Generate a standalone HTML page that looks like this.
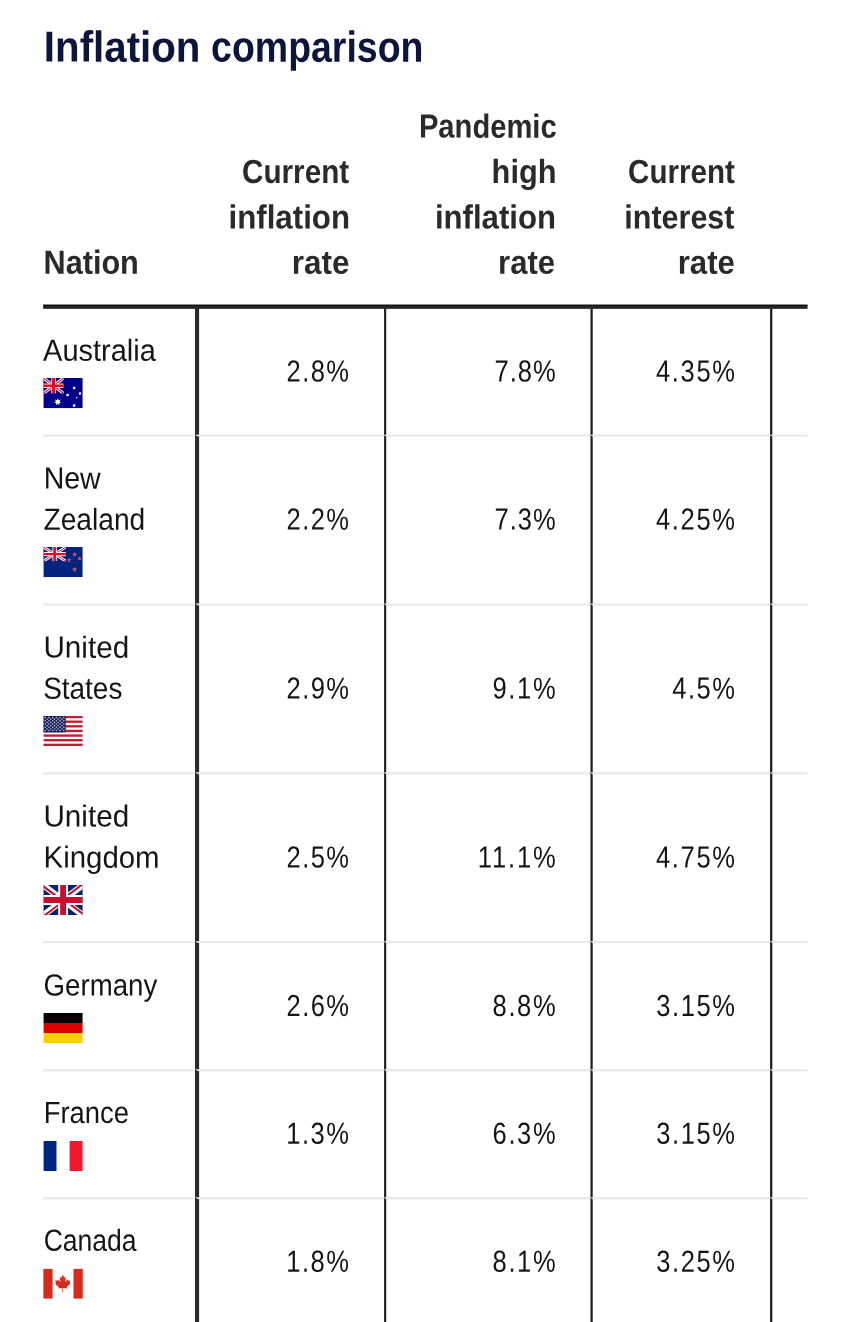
<!DOCTYPE html>
<html lang="en">
<head>
<meta charset="utf-8">
<title>Inflation comparison</title>
<style>
html,body{margin:0;padding:0;background:#fff}
body{width:851px;height:1322px;position:relative;overflow:hidden;font-family:"Liberation Sans",sans-serif}
.t{position:absolute;left:0;top:0;white-space:nowrap;line-height:1;text-rendering:geometricPrecision;transform-origin:0 0;margin:0;padding:0}
.b{font-weight:700}
svg.lines{position:absolute;left:0;top:0}
h1{margin:0;padding:0;font-size:inherit;font-weight:inherit}
</style>
</head>
<body>
<svg class="lines" width="851" height="1322" viewBox="0 0 851 1322">
<rect x="43.2" y="434.50" width="764.3" height="2.2" fill="#e9e9e9"/>
<rect x="43.2" y="603.40" width="764.3" height="2.2" fill="#e9e9e9"/>
<rect x="43.2" y="772.20" width="764.3" height="2.2" fill="#e9e9e9"/>
<rect x="43.2" y="941.00" width="764.3" height="2.2" fill="#e9e9e9"/>
<rect x="43.2" y="1069.20" width="764.3" height="2.2" fill="#e9e9e9"/>
<rect x="43.2" y="1197.20" width="764.3" height="2.2" fill="#e9e9e9"/>
<rect x="195.0" y="308.4" width="4.10" height="1014.1" fill="#2a2a2a"/>
<rect x="384.1" y="308.4" width="2.10" height="1014.1" fill="#1a1a1a"/>
<rect x="590.5" y="308.4" width="2.20" height="1014.1" fill="#1a1a1a"/>
<rect x="770.1" y="308.4" width="2.20" height="1014.1" fill="#1a1a1a"/>
<path d="M194.8 434.9L199.2 434.6V436.8z" fill="#f6f6f6"/>
<path d="M383.9 434.9L386.3 434.6V436.8z" fill="#f6f6f6"/>
<path d="M590.3 434.9L592.8 434.6V436.8z" fill="#f6f6f6"/>
<path d="M769.9 434.9L772.4 434.6V436.8z" fill="#f6f6f6"/>
<path d="M194.8 603.8L199.2 603.5V605.7z" fill="#f6f6f6"/>
<path d="M383.9 603.8L386.3 603.5V605.7z" fill="#f6f6f6"/>
<path d="M590.3 603.8L592.8 603.5V605.7z" fill="#f6f6f6"/>
<path d="M769.9 603.8L772.4 603.5V605.7z" fill="#f6f6f6"/>
<path d="M194.8 772.6L199.2 772.3V774.5z" fill="#f6f6f6"/>
<path d="M383.9 772.6L386.3 772.3V774.5z" fill="#f6f6f6"/>
<path d="M590.3 772.6L592.8 772.3V774.5z" fill="#f6f6f6"/>
<path d="M769.9 772.6L772.4 772.3V774.5z" fill="#f6f6f6"/>
<path d="M194.8 941.4L199.2 941.1V943.3z" fill="#f6f6f6"/>
<path d="M383.9 941.4L386.3 941.1V943.3z" fill="#f6f6f6"/>
<path d="M590.3 941.4L592.8 941.1V943.3z" fill="#f6f6f6"/>
<path d="M769.9 941.4L772.4 941.1V943.3z" fill="#f6f6f6"/>
<path d="M194.8 1069.6L199.2 1069.3V1071.5z" fill="#f6f6f6"/>
<path d="M383.9 1069.6L386.3 1069.3V1071.5z" fill="#f6f6f6"/>
<path d="M590.3 1069.6L592.8 1069.3V1071.5z" fill="#f6f6f6"/>
<path d="M769.9 1069.6L772.4 1069.3V1071.5z" fill="#f6f6f6"/>
<path d="M194.8 1197.6L199.2 1197.3V1199.5z" fill="#f6f6f6"/>
<path d="M383.9 1197.6L386.3 1197.3V1199.5z" fill="#f6f6f6"/>
<path d="M590.3 1197.6L592.8 1197.3V1199.5z" fill="#f6f6f6"/>
<path d="M769.9 1197.6L772.4 1197.3V1199.5z" fill="#f6f6f6"/>
<rect x="43.2" y="304.7" width="764.3" height="4.20" fill="#2a2a2a"/>
<rect x="43.2" y="304.7" width="764.3" height="1.7" fill="#161616"/>
<svg x="43.35" y="378.1" width="39.4" height="30.1" viewBox="0 0 640 480" preserveAspectRatio="none"><path fill="#00008b" d="M0 0h640v480H0z"/><clipPath id="uj1"><rect x="0" y="0" width="330" height="245"/></clipPath><g clip-path="url(#uj1)"><rect width="330" height="245" fill="#00008b"/><path d="M0 0L330 245M330 0L0 245" stroke="#fff" stroke-width="50"/><path d="M0 0L330 245M330 0L0 245" stroke="#e8001e" stroke-width="17"/><rect x="129.0" y="0" width="72" height="245" fill="#fff"/><rect x="0" y="87.5" width="330" height="70" fill="#fff"/><rect x="141.0" y="0" width="48" height="245" fill="#e8001e"/><rect x="0" y="101.5" width="330" height="42" fill="#e8001e"/></g><polygon fill="#fff" points="234.0,320.0 247.0,353.0 280.9,342.6 263.2,373.3 292.5,393.4 257.5,398.7 260.0,434.1 234.0,410.0 208.0,434.1 210.5,398.7 175.5,393.4 204.8,373.3 187.1,342.6 221.0,353.0"/><polygon fill="#fff" points="500.0,129.0 507.3,141.9 521.9,139.5 516.4,153.3 527.3,163.2 513.1,167.5 512.1,182.2 500.0,173.8 487.9,182.2 486.9,167.5 472.7,163.2 483.6,153.3 478.1,139.5 492.7,141.9"/><polygon fill="#fff" points="595.0,219.0 601.8,230.9 615.3,228.8 610.2,241.5 620.3,250.8 607.2,254.7 606.3,268.4 595.0,260.6 583.7,268.4 582.8,254.7 569.7,250.8 579.8,241.5 574.7,228.8 588.2,230.9"/><polygon fill="#fff" points="394.0,242.0 401.3,254.9 415.9,252.5 410.4,266.3 421.3,276.2 407.1,280.5 406.1,295.2 394.0,286.8 381.9,295.2 380.9,280.5 366.7,276.2 377.6,266.3 372.1,252.5 386.7,254.9"/><polygon fill="#fff" points="500.0,410.0 507.3,422.9 521.9,420.5 516.4,434.3 527.3,444.2 513.1,448.5 512.1,463.2 500.0,454.8 487.9,463.2 486.9,448.5 472.7,444.2 483.6,434.3 478.1,420.5 492.7,422.9"/><polygon fill="#fff" points="541.0,297.0 546.3,306.7 557.2,308.7 549.6,316.8 551.0,327.8 541.0,323.0 531.0,327.8 532.4,316.8 524.8,308.7 535.7,306.7"/></svg>
<svg x="43.35" y="547.0" width="39.4" height="30.1" viewBox="0 0 640 480" preserveAspectRatio="none"><path fill="#00247d" d="M0 0h640v480H0z"/><clipPath id="uj2"><rect x="0" y="0" width="366" height="226"/></clipPath><g clip-path="url(#uj2)"><rect width="366" height="226" fill="#00247d"/><path d="M0 0L366 226M366 0L0 226" stroke="#fff" stroke-width="46"/><path d="M0 0L366 226M366 0L0 226" stroke="#e8001e" stroke-width="15"/><rect x="148.0" y="0" width="70" height="226" fill="#fff"/><rect x="0" y="80.0" width="366" height="66" fill="#fff"/><rect x="162.0" y="0" width="42" height="226" fill="#e8001e"/><rect x="0" y="95.0" width="366" height="36" fill="#e8001e"/></g><polygon fill="#fff" fill-opacity="0.7" points="508.0,83.0 518.6,104.4 542.2,107.9 525.1,124.6 529.2,148.1 508.0,137.0 486.8,148.1 490.9,124.6 473.8,107.9 497.4,104.4"/><polygon fill="#e8203a" points="508.0,88.4 516.9,106.8 537.1,109.5 522.4,123.7 526.0,143.8 508.0,134.1 490.0,143.8 493.6,123.7 478.9,109.5 499.1,106.8"/><polygon fill="#fff" fill-opacity="0.7" points="587.0,154.0 596.4,173.1 617.4,176.1 602.2,190.9 605.8,211.9 587.0,202.0 568.2,211.9 571.8,190.9 556.6,176.1 577.6,173.1"/><polygon fill="#e8203a" points="587.0,158.8 594.9,175.1 612.9,177.6 599.8,190.2 603.0,208.0 587.0,199.4 571.0,208.0 574.2,190.2 561.1,177.6 579.1,175.1"/><polygon fill="#fff" fill-opacity="0.7" points="417.0,177.0 427.0,197.2 449.3,200.5 433.2,216.3 437.0,238.5 417.0,228.0 397.0,238.5 400.8,216.3 384.7,200.5 407.0,197.2"/><polygon fill="#e8203a" points="417.0,182.1 425.4,199.4 444.5,202.1 430.6,215.4 434.0,234.4 417.0,225.3 400.0,234.4 403.4,215.4 389.5,202.1 408.6,199.4"/><polygon fill="#fff" fill-opacity="0.7" points="508.0,321.0 519.2,343.6 544.1,347.3 526.1,364.9 530.3,389.7 508.0,378.0 485.7,389.7 489.9,364.9 471.9,347.3 496.8,343.6"/><polygon fill="#e8203a" points="508.0,326.7 517.4,346.1 538.7,349.0 523.2,363.9 527.0,385.1 508.0,375.0 489.0,385.1 492.8,363.9 477.3,349.0 498.6,346.1"/></svg>
<svg x="43.35" y="715.9" width="39.4" height="30.1" viewBox="0 0 640 480" preserveAspectRatio="none"><path fill="#fff" d="M0 0h640v480H0z"/><rect fill="#c41a30" x="0" y="0.00" width="640" height="36.92"/><rect fill="#c41a30" x="0" y="73.85" width="640" height="36.92"/><rect fill="#c41a30" x="0" y="147.69" width="640" height="36.92"/><rect fill="#c41a30" x="0" y="221.54" width="640" height="36.92"/><rect fill="#c41a30" x="0" y="295.38" width="640" height="36.92"/><rect fill="#c41a30" x="0" y="369.23" width="640" height="36.92"/><rect fill="#c41a30" x="0" y="443.08" width="640" height="36.92"/><rect fill="#141c58" x="0" y="0" width="363" height="263.46"/><polygon fill="#fff" fill-opacity="0.8" points="30.2,8.8 35.5,18.6 46.4,20.6 38.8,28.6 40.2,39.6 30.2,34.8 20.3,39.6 21.7,28.6 14.1,20.6 25.0,18.6"/><polygon fill="#fff" fill-opacity="0.8" points="90.8,8.8 96.0,18.6 106.9,20.6 99.3,28.6 100.7,39.6 90.8,34.8 80.8,39.6 82.2,28.6 74.6,20.6 85.5,18.6"/><polygon fill="#fff" fill-opacity="0.8" points="151.2,8.8 156.5,18.6 167.4,20.6 159.8,28.6 161.2,39.6 151.2,34.8 141.3,39.6 142.7,28.6 135.1,20.6 146.0,18.6"/><polygon fill="#fff" fill-opacity="0.8" points="211.8,8.8 217.0,18.6 227.9,20.6 220.3,28.6 221.7,39.6 211.8,34.8 201.8,39.6 203.2,28.6 195.6,20.6 206.5,18.6"/><polygon fill="#fff" fill-opacity="0.8" points="272.2,8.8 277.5,18.6 288.4,20.6 280.8,28.6 282.2,39.6 272.2,34.8 262.3,39.6 263.7,28.6 256.1,20.6 267.0,18.6"/><polygon fill="#fff" fill-opacity="0.8" points="332.8,8.8 338.0,18.6 348.9,20.6 341.3,28.6 342.7,39.6 332.8,34.8 322.8,39.6 324.2,28.6 316.6,20.6 327.5,18.6"/><polygon fill="#fff" fill-opacity="0.8" points="60.5,34.7 65.8,44.4 76.7,46.4 69.1,54.5 70.5,65.4 60.5,60.7 50.5,65.4 51.9,54.5 44.3,46.4 55.2,44.4"/><polygon fill="#fff" fill-opacity="0.8" points="121.0,34.7 126.3,44.4 137.2,46.4 129.6,54.5 131.0,65.4 121.0,60.7 111.0,65.4 112.4,54.5 104.8,46.4 115.7,44.4"/><polygon fill="#fff" fill-opacity="0.8" points="181.5,34.7 186.8,44.4 197.7,46.4 190.1,54.5 191.5,65.4 181.5,60.7 171.5,65.4 172.9,54.5 165.3,46.4 176.2,44.4"/><polygon fill="#fff" fill-opacity="0.8" points="242.0,34.7 247.3,44.4 258.2,46.4 250.6,54.5 252.0,65.4 242.0,60.7 232.0,65.4 233.4,54.5 225.8,46.4 236.7,44.4"/><polygon fill="#fff" fill-opacity="0.8" points="302.5,34.7 307.8,44.4 318.7,46.4 311.1,54.5 312.5,65.4 302.5,60.7 292.5,65.4 293.9,54.5 286.3,46.4 297.2,44.4"/><polygon fill="#fff" fill-opacity="0.8" points="30.2,60.5 35.5,70.3 46.4,72.3 38.8,80.3 40.2,91.3 30.2,86.5 20.3,91.3 21.7,80.3 14.1,72.3 25.0,70.3"/><polygon fill="#fff" fill-opacity="0.8" points="90.8,60.5 96.0,70.3 106.9,72.3 99.3,80.3 100.7,91.3 90.8,86.5 80.8,91.3 82.2,80.3 74.6,72.3 85.5,70.3"/><polygon fill="#fff" fill-opacity="0.8" points="151.2,60.5 156.5,70.3 167.4,72.3 159.8,80.3 161.2,91.3 151.2,86.5 141.3,91.3 142.7,80.3 135.1,72.3 146.0,70.3"/><polygon fill="#fff" fill-opacity="0.8" points="211.8,60.5 217.0,70.3 227.9,72.3 220.3,80.3 221.7,91.3 211.8,86.5 201.8,91.3 203.2,80.3 195.6,72.3 206.5,70.3"/><polygon fill="#fff" fill-opacity="0.8" points="272.2,60.5 277.5,70.3 288.4,72.3 280.8,80.3 282.2,91.3 272.2,86.5 262.3,91.3 263.7,80.3 256.1,72.3 267.0,70.3"/><polygon fill="#fff" fill-opacity="0.8" points="332.8,60.5 338.0,70.3 348.9,72.3 341.3,80.3 342.7,91.3 332.8,86.5 322.8,91.3 324.2,80.3 316.6,72.3 327.5,70.3"/><polygon fill="#fff" fill-opacity="0.8" points="60.5,86.4 65.8,96.1 76.7,98.1 69.1,106.2 70.5,117.1 60.5,112.4 50.5,117.1 51.9,106.2 44.3,98.1 55.2,96.1"/><polygon fill="#fff" fill-opacity="0.8" points="121.0,86.4 126.3,96.1 137.2,98.1 129.6,106.2 131.0,117.1 121.0,112.4 111.0,117.1 112.4,106.2 104.8,98.1 115.7,96.1"/><polygon fill="#fff" fill-opacity="0.8" points="181.5,86.4 186.8,96.1 197.7,98.1 190.1,106.2 191.5,117.1 181.5,112.4 171.5,117.1 172.9,106.2 165.3,98.1 176.2,96.1"/><polygon fill="#fff" fill-opacity="0.8" points="242.0,86.4 247.3,96.1 258.2,98.1 250.6,106.2 252.0,117.1 242.0,112.4 232.0,117.1 233.4,106.2 225.8,98.1 236.7,96.1"/><polygon fill="#fff" fill-opacity="0.8" points="302.5,86.4 307.8,96.1 318.7,98.1 311.1,106.2 312.5,117.1 302.5,112.4 292.5,117.1 293.9,106.2 286.3,98.1 297.2,96.1"/><polygon fill="#fff" fill-opacity="0.8" points="30.2,112.2 35.5,121.9 46.4,124.0 38.8,132.0 40.2,143.0 30.2,138.2 20.3,143.0 21.7,132.0 14.1,124.0 25.0,121.9"/><polygon fill="#fff" fill-opacity="0.8" points="90.8,112.2 96.0,121.9 106.9,124.0 99.3,132.0 100.7,143.0 90.8,138.2 80.8,143.0 82.2,132.0 74.6,124.0 85.5,121.9"/><polygon fill="#fff" fill-opacity="0.8" points="151.2,112.2 156.5,121.9 167.4,124.0 159.8,132.0 161.2,143.0 151.2,138.2 141.3,143.0 142.7,132.0 135.1,124.0 146.0,121.9"/><polygon fill="#fff" fill-opacity="0.8" points="211.8,112.2 217.0,121.9 227.9,124.0 220.3,132.0 221.7,143.0 211.8,138.2 201.8,143.0 203.2,132.0 195.6,124.0 206.5,121.9"/><polygon fill="#fff" fill-opacity="0.8" points="272.2,112.2 277.5,121.9 288.4,124.0 280.8,132.0 282.2,143.0 272.2,138.2 262.3,143.0 263.7,132.0 256.1,124.0 267.0,121.9"/><polygon fill="#fff" fill-opacity="0.8" points="332.8,112.2 338.0,121.9 348.9,124.0 341.3,132.0 342.7,143.0 332.8,138.2 322.8,143.0 324.2,132.0 316.6,124.0 327.5,121.9"/><polygon fill="#fff" fill-opacity="0.8" points="60.5,138.1 65.8,147.8 76.7,149.8 69.1,157.9 70.5,168.8 60.5,164.1 50.5,168.8 51.9,157.9 44.3,149.8 55.2,147.8"/><polygon fill="#fff" fill-opacity="0.8" points="121.0,138.1 126.3,147.8 137.2,149.8 129.6,157.9 131.0,168.8 121.0,164.1 111.0,168.8 112.4,157.9 104.8,149.8 115.7,147.8"/><polygon fill="#fff" fill-opacity="0.8" points="181.5,138.1 186.8,147.8 197.7,149.8 190.1,157.9 191.5,168.8 181.5,164.1 171.5,168.8 172.9,157.9 165.3,149.8 176.2,147.8"/><polygon fill="#fff" fill-opacity="0.8" points="242.0,138.1 247.3,147.8 258.2,149.8 250.6,157.9 252.0,168.8 242.0,164.1 232.0,168.8 233.4,157.9 225.8,149.8 236.7,147.8"/><polygon fill="#fff" fill-opacity="0.8" points="302.5,138.1 307.8,147.8 318.7,149.8 311.1,157.9 312.5,168.8 302.5,164.1 292.5,168.8 293.9,157.9 286.3,149.8 297.2,147.8"/><polygon fill="#fff" fill-opacity="0.8" points="30.2,163.9 35.5,173.6 46.4,175.7 38.8,183.7 40.2,194.7 30.2,189.9 20.3,194.7 21.7,183.7 14.1,175.7 25.0,173.6"/><polygon fill="#fff" fill-opacity="0.8" points="90.8,163.9 96.0,173.6 106.9,175.7 99.3,183.7 100.7,194.7 90.8,189.9 80.8,194.7 82.2,183.7 74.6,175.7 85.5,173.6"/><polygon fill="#fff" fill-opacity="0.8" points="151.2,163.9 156.5,173.6 167.4,175.7 159.8,183.7 161.2,194.7 151.2,189.9 141.3,194.7 142.7,183.7 135.1,175.7 146.0,173.6"/><polygon fill="#fff" fill-opacity="0.8" points="211.8,163.9 217.0,173.6 227.9,175.7 220.3,183.7 221.7,194.7 211.8,189.9 201.8,194.7 203.2,183.7 195.6,175.7 206.5,173.6"/><polygon fill="#fff" fill-opacity="0.8" points="272.2,163.9 277.5,173.6 288.4,175.7 280.8,183.7 282.2,194.7 272.2,189.9 262.3,194.7 263.7,183.7 256.1,175.7 267.0,173.6"/><polygon fill="#fff" fill-opacity="0.8" points="332.8,163.9 338.0,173.6 348.9,175.7 341.3,183.7 342.7,194.7 332.8,189.9 322.8,194.7 324.2,183.7 316.6,175.7 327.5,173.6"/><polygon fill="#fff" fill-opacity="0.8" points="60.5,189.8 65.8,199.5 76.7,201.5 69.1,209.6 70.5,220.5 60.5,215.8 50.5,220.5 51.9,209.6 44.3,201.5 55.2,199.5"/><polygon fill="#fff" fill-opacity="0.8" points="121.0,189.8 126.3,199.5 137.2,201.5 129.6,209.6 131.0,220.5 121.0,215.8 111.0,220.5 112.4,209.6 104.8,201.5 115.7,199.5"/><polygon fill="#fff" fill-opacity="0.8" points="181.5,189.8 186.8,199.5 197.7,201.5 190.1,209.6 191.5,220.5 181.5,215.8 171.5,220.5 172.9,209.6 165.3,201.5 176.2,199.5"/><polygon fill="#fff" fill-opacity="0.8" points="242.0,189.8 247.3,199.5 258.2,201.5 250.6,209.6 252.0,220.5 242.0,215.8 232.0,220.5 233.4,209.6 225.8,201.5 236.7,199.5"/><polygon fill="#fff" fill-opacity="0.8" points="302.5,189.8 307.8,199.5 318.7,201.5 311.1,209.6 312.5,220.5 302.5,215.8 292.5,220.5 293.9,209.6 286.3,201.5 297.2,199.5"/><polygon fill="#fff" fill-opacity="0.8" points="30.2,215.6 35.5,225.3 46.4,227.4 38.8,235.4 40.2,246.4 30.2,241.6 20.3,246.4 21.7,235.4 14.1,227.4 25.0,225.3"/><polygon fill="#fff" fill-opacity="0.8" points="90.8,215.6 96.0,225.3 106.9,227.4 99.3,235.4 100.7,246.4 90.8,241.6 80.8,246.4 82.2,235.4 74.6,227.4 85.5,225.3"/><polygon fill="#fff" fill-opacity="0.8" points="151.2,215.6 156.5,225.3 167.4,227.4 159.8,235.4 161.2,246.4 151.2,241.6 141.3,246.4 142.7,235.4 135.1,227.4 146.0,225.3"/><polygon fill="#fff" fill-opacity="0.8" points="211.8,215.6 217.0,225.3 227.9,227.4 220.3,235.4 221.7,246.4 211.8,241.6 201.8,246.4 203.2,235.4 195.6,227.4 206.5,225.3"/><polygon fill="#fff" fill-opacity="0.8" points="272.2,215.6 277.5,225.3 288.4,227.4 280.8,235.4 282.2,246.4 272.2,241.6 262.3,246.4 263.7,235.4 256.1,227.4 267.0,225.3"/><polygon fill="#fff" fill-opacity="0.8" points="332.8,215.6 338.0,225.3 348.9,227.4 341.3,235.4 342.7,246.4 332.8,241.6 322.8,246.4 324.2,235.4 316.6,227.4 327.5,225.3"/></svg>
<svg x="43.35" y="885.0" width="39.4" height="30.1" viewBox="0 0 640 480" preserveAspectRatio="none"><path fill="#012169" d="M0 0h640v480H0z"/>
<path fill="#fff" d="m75 0 244 181L562 0h78v62L400 241l240 178v61h-80L320 301 81 480H0v-60l239-178L0 64V0h75z"/>
<path fill="#c8102e" d="m424 281 216 159v40L369 281h55zm-184 20 6 35L54 480H0l240-179zM640 0v3L391 191l2-44L590 0h50zM0 0l239 176h-60L0 42V0z"/>
<path fill="#fff" d="M241 0v480h160V0H241zM0 160v160h640V160H0z"/>
<path fill="#c8102e" d="M0 193v96h640v-96H0zM273 0v480h96V0h-96z"/></svg>
<svg x="43.35" y="1013.0" width="39.4" height="30.1" viewBox="0 0 640 480" preserveAspectRatio="none"><path fill="#ffce00" d="M0 320h640v160H0z"/><path fill="#000" d="M0 0h640v160H0z"/><path fill="#d00" d="M0 160h640v160H0z"/></svg>
<svg x="43.35" y="1141.0" width="39.4" height="30.1" viewBox="0 0 640 480" preserveAspectRatio="none"><path fill="#fff" d="M0 0h640v480H0z"/><path fill="#00267f" d="M0 0h213.3v480H0z"/><path fill="#f31830" d="M426.700 0H640v480H426.700z"/></svg>
<svg x="43.35" y="1268.7" width="39.4" height="30.1" viewBox="0 0 640 480" preserveAspectRatio="none"><path fill="#fff" d="M150.100 0h339.700v480H150z"/>
<path fill="#d52b1e" d="M-19.700 0h169.800v480H-19.700zm509.500 0h169.800v480H489.900zM201 232l-13.300 4.400 61.400 54c4.700 13.700-1.600 17.800-5.600 25l66.600-8.400-1.600 67 13.900-.3-3.100-66.600 66.700 8c-4.100-8.700-7.800-13.300-4-27.200l61.300-51-10.700-4c-8.800-6.800 3.800-32.600 5.600-48.900 0 0-35.700 12.300-38 5.800l-9.200-17.500-32.600 35.800c-3.500.9-5-.5-5.900-3.500l15-74.800-23.800 13.400c-2 .9-4 .1-5.200-2.200l-23-46-23.600 47.800c-1.800 1.700-3.600 1.900-5 .7L264 130.800l13.700 74.100c-1.100 3-3.700 3.800-6.700 2.200l-31.200-35.300c-4 6.500-6.800 17.100-12.200 19.500-5.400 2.300-23.500-4.500-35.600-7 4.200 14.800 17 39.600 9 47.700z"/></svg>
</svg>
<h1><span class="t b" style="font-size:43.4px;color:#0c153c;transform:translate(43.88px,26.60px) rotate(0.04deg) scaleX(0.9282)">Inflation</span> <span class="t b" style="font-size:43.4px;color:#0c153c;transform:translate(211.14px,26.60px) rotate(0.04deg) scaleX(0.8632)">comparison</span></h1>
<span class="t b" style="font-size:33.4px;color:#2a2a2a;transform:translate(43.53px,246.70px) rotate(0.04deg) scaleX(0.9177)">Nation</span>
<span class="t b" style="font-size:33.4px;color:#2a2a2a;transform:translate(242.10px,156.05px) rotate(0.04deg) scaleX(0.8876)">Current</span>
<span class="t b" style="font-size:33.4px;color:#2a2a2a;transform:translate(228.50px,201.40px) rotate(0.04deg) scaleX(0.9362)">inflation</span>
<span class="t b" style="font-size:33.4px;color:#2a2a2a;transform:translate(291.80px,246.70px) rotate(0.04deg) scaleX(0.9398)">rate</span>
<span class="t b" style="font-size:33.4px;color:#2a2a2a;transform:translate(418.93px,110.60px) rotate(0.04deg) scaleX(0.8731)">Pandemic</span>
<span class="t b" style="font-size:33.4px;color:#2a2a2a;transform:translate(491.63px,156.05px) rotate(0.04deg) scaleX(0.9213)">high</span>
<span class="t b" style="font-size:33.4px;color:#2a2a2a;transform:translate(434.91px,201.40px) rotate(0.04deg) scaleX(0.9330)">inflation</span>
<span class="t b" style="font-size:33.4px;color:#2a2a2a;transform:translate(498.12px,246.70px) rotate(0.04deg) scaleX(0.9311)">rate</span>
<span class="t b" style="font-size:33.4px;color:#2a2a2a;transform:translate(628.11px,156.05px) rotate(0.04deg) scaleX(0.8859)">Current</span>
<span class="t b" style="font-size:33.4px;color:#2a2a2a;transform:translate(624.36px,201.40px) rotate(0.04deg) scaleX(0.9129)">interest</span>
<span class="t b" style="font-size:33.4px;color:#2a2a2a;transform:translate(677.72px,246.70px) rotate(0.04deg) scaleX(0.9328)">rate</span>
<span class="t" style="font-size:30.5px;color:#151515;transform:translate(43.09px,335.70px) rotate(0.04deg) scaleX(0.9502)">Australia</span>
<span class="t" style="font-size:30.5px;color:#151515;transform:translate(43.65px,463.60px) rotate(0.04deg) scaleX(0.9353)">New</span>
<span class="t" style="font-size:30.5px;color:#151515;transform:translate(43.49px,504.70px) rotate(0.04deg) scaleX(0.9228)">Zealand</span>
<span class="t" style="font-size:30.5px;color:#151515;transform:translate(43.48px,632.60px) rotate(0.04deg) scaleX(0.9717)">United</span>
<span class="t" style="font-size:30.5px;color:#151515;transform:translate(43.20px,673.70px) rotate(0.04deg) scaleX(0.9156)">States</span>
<span class="t" style="font-size:30.5px;color:#151515;transform:translate(43.48px,801.50px) rotate(0.04deg) scaleX(0.9717)">United</span>
<span class="t" style="font-size:30.5px;color:#151515;transform:translate(43.58px,842.60px) rotate(0.04deg) scaleX(0.9638)">Kingdom</span>
<span class="t" style="font-size:30.5px;color:#151515;transform:translate(43.63px,970.40px) rotate(0.04deg) scaleX(0.9059)">Germany</span>
<span class="t" style="font-size:30.5px;color:#151515;transform:translate(43.74px,1097.95px) rotate(0.04deg) scaleX(0.8981)">France</span>
<span class="t" style="font-size:30.5px;color:#151515;transform:translate(43.69px,1225.80px) rotate(0.04deg) scaleX(0.8701)">Canada</span>
<span class="t" style="font-size:30.4px;color:#151515;letter-spacing:1.70px;transform:translate(286.57px,356.50px) rotate(0.04deg) scaleX(0.8400)">2.8%</span>
<span class="t" style="font-size:30.4px;color:#151515;letter-spacing:1.17px;transform:translate(494.49px,356.50px) rotate(0.04deg) scaleX(0.8400)">7.8%</span>
<span class="t" style="font-size:30.4px;color:#151515;letter-spacing:1.94px;transform:translate(656.04px,356.50px) rotate(0.04deg) scaleX(0.8400)">4.35%</span>
<span class="t" style="font-size:30.4px;color:#151515;letter-spacing:1.70px;transform:translate(286.57px,504.60px) rotate(0.04deg) scaleX(0.8400)">2.2%</span>
<span class="t" style="font-size:30.4px;color:#151515;letter-spacing:1.17px;transform:translate(494.49px,504.60px) rotate(0.04deg) scaleX(0.8400)">7.3%</span>
<span class="t" style="font-size:30.4px;color:#151515;letter-spacing:1.94px;transform:translate(656.04px,504.60px) rotate(0.04deg) scaleX(0.8400)">4.25%</span>
<span class="t" style="font-size:30.4px;color:#151515;letter-spacing:1.70px;transform:translate(286.57px,673.60px) rotate(0.04deg) scaleX(0.8400)">2.9%</span>
<span class="t" style="font-size:30.4px;color:#151515;letter-spacing:1.97px;transform:translate(492.48px,673.60px) rotate(0.04deg) scaleX(0.8400)">9.1%</span>
<span class="t" style="font-size:30.4px;color:#151515;letter-spacing:1.85px;transform:translate(672.18px,673.60px) rotate(0.04deg) scaleX(0.8400)">4.5%</span>
<span class="t" style="font-size:30.4px;color:#151515;letter-spacing:1.70px;transform:translate(286.57px,842.50px) rotate(0.04deg) scaleX(0.8400)">2.5%</span>
<span class="t" style="font-size:30.4px;color:#151515;letter-spacing:2.24px;transform:translate(477.75px,842.50px) rotate(0.04deg) scaleX(0.8400)">11.1%</span>
<span class="t" style="font-size:30.4px;color:#151515;letter-spacing:1.94px;transform:translate(656.04px,842.50px) rotate(0.04deg) scaleX(0.8400)">4.75%</span>
<span class="t" style="font-size:30.4px;color:#151515;letter-spacing:1.70px;transform:translate(286.57px,990.90px) rotate(0.04deg) scaleX(0.8400)">2.6%</span>
<span class="t" style="font-size:30.4px;color:#151515;letter-spacing:1.91px;transform:translate(492.63px,990.90px) rotate(0.04deg) scaleX(0.8400)">8.8%</span>
<span class="t" style="font-size:30.4px;color:#151515;letter-spacing:1.84px;transform:translate(656.39px,990.90px) rotate(0.04deg) scaleX(0.8400)">3.15%</span>
<span class="t" style="font-size:30.4px;color:#151515;letter-spacing:1.85px;transform:translate(286.19px,1118.80px) rotate(0.04deg) scaleX(0.8400)">1.3%</span>
<span class="t" style="font-size:30.4px;color:#151515;letter-spacing:1.92px;transform:translate(492.61px,1118.80px) rotate(0.04deg) scaleX(0.8400)">6.3%</span>
<span class="t" style="font-size:30.4px;color:#151515;letter-spacing:1.84px;transform:translate(656.39px,1118.80px) rotate(0.04deg) scaleX(0.8400)">3.15%</span>
<span class="t" style="font-size:30.4px;color:#151515;letter-spacing:1.85px;transform:translate(286.19px,1246.80px) rotate(0.04deg) scaleX(0.8400)">1.8%</span>
<span class="t" style="font-size:30.4px;color:#151515;letter-spacing:1.91px;transform:translate(492.63px,1246.80px) rotate(0.04deg) scaleX(0.8400)">8.1%</span>
<span class="t" style="font-size:30.4px;color:#151515;letter-spacing:1.84px;transform:translate(656.39px,1246.80px) rotate(0.04deg) scaleX(0.8400)">3.25%</span>
</body>
</html>
